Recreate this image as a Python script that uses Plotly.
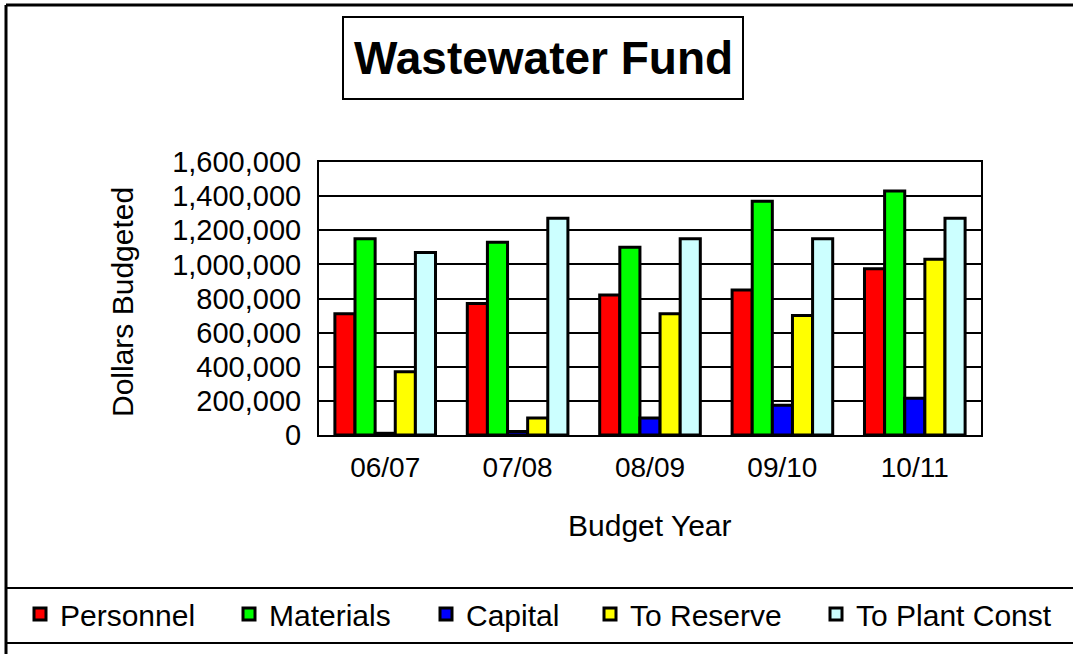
import plotly.graph_objects as go

W, H = 1073, 654

years = ['06/07', '07/08', '08/09', '09/10', '10/11']
personnel = [710000, 770000, 820000, 850000, 975000]
materials = [1150000, 1130000, 1100000, 1370000, 1430000]
capital = [10000, 20000, 100000, 175000, 215000]
to_reserve = [370000, 100000, 710000, 700000, 1030000]
to_plant = [1070000, 1270000, 1150000, 1150000, 1270000]

series_names = ['Personnel', 'Materials', 'Capital', 'To Reserve', 'To Plant Const']
series_colors = ['#ff0000', '#00ff00', '#0000ff', '#ffff00', '#ccffff']
series_values = [personnel, materials, capital, to_reserve, to_plant]

FONT = 'Liberation Sans, Arial, sans-serif'


def px(x):
    return x / W


def py(y):
    return 1 - y / H


legend_left = [20, 229, 426, 590, 816]
legend_ids = ['legend', 'legend2', 'legend3', 'legend4', 'legend5']

traces = []
for name, color, vals, lid in zip(series_names, series_colors, series_values, legend_ids):
    traces.append(go.Bar(
        name=name,
        x=years,
        y=vals,
        legend=lid,
        marker=dict(color=color, line=dict(color='black', width=3)),
    ))

fig = go.Figure(data=traces)

legends = {}
for lid, lx in zip(legend_ids, legend_left):
    legends[lid] = dict(
        x=px(lx), xanchor='left',
        y=py(614), yanchor='middle',
        orientation='h',
        bgcolor='rgba(0,0,0,0)',
        borderwidth=0,
        font=dict(family=FONT, size=30, color='black'),
    )

fig.update_layout(
    width=W, height=H,
    margin=dict(l=0, r=0, t=0, b=0),
    paper_bgcolor='white',
    plot_bgcolor='white',
    barmode='group',
    bargap=0.24,
    bargroupgap=0,
    showlegend=True,
    font=dict(family=FONT, color='black'),
    xaxis=dict(
        domain=[px(319), px(981)],
        showline=True, linecolor='black', linewidth=2, mirror=True,
        showgrid=False, ticks='',
        tickfont=dict(size=28),
        ticklabelstandoff=6,
        automargin=False,
    ),
    yaxis=dict(
        domain=[py(435), py(162)],
        range=[0, 1600000],
        dtick=200000,
        tickformat=',d',
        showline=True, linecolor='black', linewidth=2, mirror=True,
        showgrid=True, gridcolor='black', gridwidth=2,
        ticks='',
        tickfont=dict(size=29),
        ticklabelstandoff=10,
        automargin=False,
        zeroline=False,
    ),
    annotations=[
        dict(text='<b>Wastewater Fund</b>', x=px(543), y=py(58), xref='paper', yref='paper',
             xanchor='center', yanchor='middle',
             showarrow=False, font=dict(size=46, family=FONT)),
        dict(text='Dollars Budgeted', x=px(122), y=py(302), xref='paper', yref='paper',
             xanchor='center', yanchor='middle',
             showarrow=False, textangle=-90, font=dict(size=30, family=FONT)),
        dict(text='Budget Year', x=px(650), y=py(525), xref='paper', yref='paper',
             xanchor='center', yanchor='middle',
             showarrow=False, font=dict(size=30, family=FONT)),
    ],
    shapes=[
        # outer frame
        dict(type='line', xref='paper', yref='paper', x0=px(6), x1=1.01, y0=py(5), y1=py(5),
             line=dict(color='black', width=3)),
        dict(type='line', xref='paper', yref='paper', x0=px(6), x1=px(6), y0=py(5), y1=-0.01,
             line=dict(color='black', width=3)),
        # legend strip
        dict(type='line', xref='paper', yref='paper', x0=px(6), x1=1.01, y0=py(588), y1=py(588),
             line=dict(color='black', width=2)),
        dict(type='line', xref='paper', yref='paper', x0=px(6), x1=1.01, y0=py(643), y1=py(643),
             line=dict(color='black', width=2)),
        # title box
        dict(type='rect', xref='paper', yref='paper', x0=px(343), x1=px(743), y0=py(17), y1=py(99),
             line=dict(color='black', width=2)),
    ],
)
fig.update_layout(**legends)

fig.write_html('out.html', config={'displayModeBar': False},
               post_script="document.body.style.margin='0';")
